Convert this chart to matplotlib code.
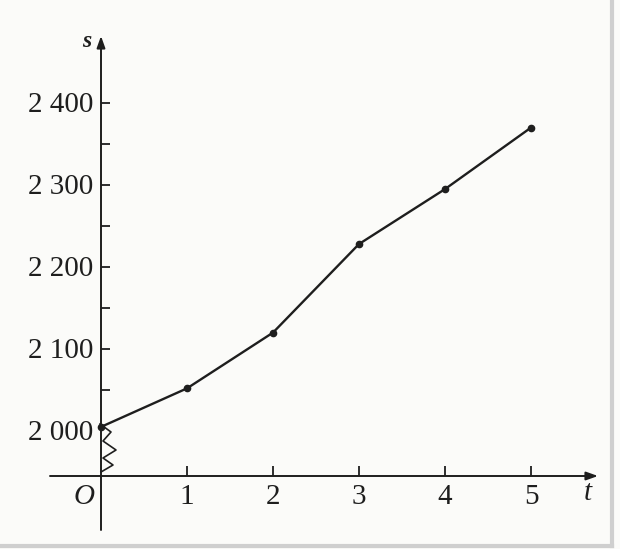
import matplotlib
matplotlib.use("Agg")
import matplotlib.pyplot as plt

# data
t_vals = [0, 1, 2, 3, 4, 5]
s_vals = [2005, 2052, 2120, 2228, 2295, 2370]
x_ticks = [1, 2, 3, 4, 5]
x_tick_labels = ["1", "2", "3", "4", "5"]
y_ticks = [2000, 2100, 2200, 2300, 2400]
y_tick_labels = ["2 000", "2 100", "2 200", "2 300", "2 400"]
y_minor = [2050, 2150, 2250, 2350]

W, H = 620, 549
fig = plt.figure(figsize=(W / 100, H / 100), dpi=100)
bg = "#fbfbf9"
fig.patch.set_facecolor(bg)
ax = fig.add_axes([0, 0, 1, 1])
ax.set_facecolor(bg)
ax.axis("off")

# pixel mapping helpers (layout only)
px_per_t = 86.0
x0_px = 101.0
px_per_s = 0.82
y0_px = 431.0


def tx(px):
    return (px - x0_px) / px_per_t


def sy(py):
    return 2000 - (py - y0_px) / px_per_s


ax.set_xlim(tx(0), tx(W))
ax.set_ylim(sy(H), sy(0))

ink = "#1e1e1e"
font = "Liberation Serif"
fs = 21

x_axis_s = sy(476)
# axes with arrows
ax.annotate("", xy=(tx(598), x_axis_s), xytext=(tx(50), x_axis_s),
            arrowprops=dict(arrowstyle="-|>,head_length=0.7,head_width=0.25",
                            color=ink, lw=1.4, shrinkA=0, shrinkB=0))
ax.annotate("", xy=(0, sy(36)), xytext=(0, sy(530)),
            arrowprops=dict(arrowstyle="-|>,head_length=0.7,head_width=0.25",
                            color=ink, lw=1.4, shrinkA=0, shrinkB=0))

# x ticks
tick_len_s = 10 / px_per_s
for xt, lab in zip(x_ticks, x_tick_labels):
    ax.plot([xt, xt], [x_axis_s, x_axis_s + tick_len_s], color=ink, lw=1.3,
            solid_capstyle="butt")
    ax.text(xt, sy(497), lab, ha="center", va="center", fontsize=fs,
            family=font, color=ink)
ax.text(tx(84), sy(497), "O", ha="center", va="center", fontsize=fs,
        family=font, style="italic", color=ink)
ax.text(tx(588), sy(493), "t", ha="center", va="center", fontsize=fs,
        family=font, style="italic", color=ink)
ax.text(tx(87), sy(42), "s", ha="center", va="center", fontsize=fs - 4,
        family=font, style="italic", weight="bold", color=ink)

# y ticks
tick_len_t = 9 / px_per_t
for yt in list(y_ticks[1:]) + list(y_minor):
    ax.plot([0, tick_len_t], [yt, yt], color=ink, lw=1.3, solid_capstyle="butt")
for yt, lab in zip(y_ticks, y_tick_labels):
    ax.text(tx(93), yt - 3, lab, ha="right", va="center", fontsize=fs,
            family=font, color=ink)

# axis break zigzag
zz_px = [(100, 424), (111, 432), (103, 441), (116, 450), (103, 458),
         (113, 465), (101, 472)]
ax.plot([tx(p[0]) for p in zz_px], [sy(p[1]) for p in zz_px], color=ink,
        lw=1.2, solid_joinstyle="round")

# data curve
ax.plot(t_vals, s_vals, color=ink, lw=1.7, marker="o", markersize=4.5,
        markerfacecolor=ink, markeredgecolor=ink, zorder=5)

# scan border
ax.plot([tx(612), tx(612)], [sy(0), sy(546)], color="#cfcfcf", lw=3)
ax.plot([tx(0), tx(612)], [sy(546), sy(546)], color="#cfcfcf", lw=3)

fig.savefig("out.png", dpi=100, facecolor=bg)
